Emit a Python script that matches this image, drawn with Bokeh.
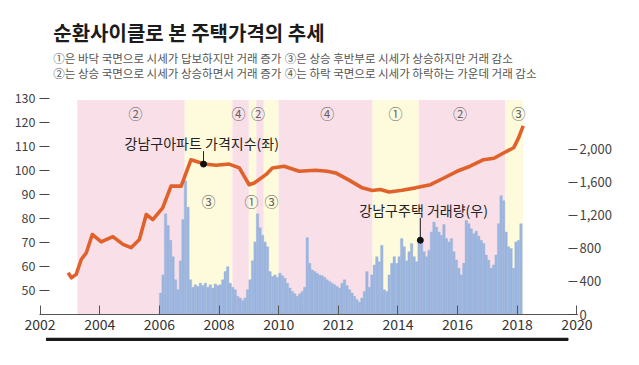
from bokeh.plotting import figure
from bokeh.models import Range1d, LinearAxis, FixedTicker, NumeralTickFormatter
from bokeh.layouts import column
from bokeh.embed import file_html
from bokeh.resources import INLINE
from bokeh.core.properties import value

FONT = "Noto Sans CJK KR"

# ---------------- texts ----------------
title_text = "순환사이클로 본 주택가격의 추세"
legend_col1 = ["①은 바닥 국면으로 시세가 답보하지만 거래 증가",
               "②는 상승 국면으로 시세가 상승하면서 거래 증가"]
legend_col2 = ["③은 상승 후반부로 시세가 상승하지만 거래 감소",
               "④는 하락 국면으로 시세가 하락하는 가운데 거래 감소"]
price_label = "강남구아파트 가격지수(좌)"
volume_label = "강남구주택 거래량(우)"

# ---------------- data ----------------
x_ticks = [2002, 2004, 2006, 2008, 2010, 2012, 2014, 2016, 2018, 2020]
left_ticks = [50, 60, 70, 80, 90, 100, 110, 120, 130]
right_ticks = [0, 400, 800, 1200, 1600, 2000]

# cycle phases (shaded bands)
phase_start = [2003.25, 2006.85, 2008.45, 2009.0, 2009.25, 2009.5, 2010.0, 2013.15, 2014.7, 2017.6]
phase_end = [2006.85, 2008.45, 2009.0, 2009.25, 2009.5, 2010.0, 2013.15, 2014.7, 2017.6, 2018.2]
phase_no = [2, 3, 4, 1, 2, 3, 4, 1, 2, 3]

# phase marker labels
mark_top_x = [2005.2, 2008.65, 2009.31, 2011.63, 2013.92, 2016.08, 2018.04]
mark_top_text = ["②", "④", "②", "④", "①", "②", "③"]
mark_bot_x = [2007.65, 2009.09, 2009.76]
mark_bot_text = ["③", "①", "③"]

# Gangnam apartment price index (left axis)
price_years = [2002.94, 2003.05, 2003.21, 2003.38, 2003.55, 2003.75, 2004.05, 2004.44,
               2004.78, 2005.05, 2005.33, 2005.56, 2005.78, 2006.11, 2006.39, 2006.73,
               2007.06, 2007.51, 2007.90, 2008.34, 2008.68, 2009.01, 2009.18, 2009.57,
               2009.79, 2010.18, 2010.69, 2011.24, 2011.63, 2011.91, 2012.36, 2012.80,
               2013.14, 2013.41, 2013.70, 2014.14, 2014.59, 2015.09, 2015.54, 2015.98,
               2016.42, 2016.87, 2017.22, 2017.54, 2017.88, 2018.04, 2018.20]
price_values = [57.4, 55.3, 56.7, 62.9, 65.7, 73.3, 70.2, 72.4,
                69.2, 67.8, 71.2, 81.6, 79.5, 84.4, 93.4, 93.4,
                104.4, 102.6, 102.1, 102.6, 101.0, 94.0, 94.7, 98.2,
                101.0, 101.7, 99.6, 100.0, 99.6, 98.9, 95.9, 92.7,
                91.6, 92.0, 91.0, 91.7, 92.7, 94.0, 96.8, 99.6,
                101.7, 104.4, 105.0, 107.2, 109.4, 113.4, 118.5]

# Gangnam housing transactions, monthly Jan 2006 - Feb 2018 (right axis)
vol_2006 = [260, 480, 1220, 1080, 900, 700, 420, 300, 650, 1150, 1620, 1300]
vol_2007 = [420, 330, 360, 340, 380, 350, 380, 330, 360, 320, 370, 350]
vol_2008 = [360, 420, 520, 580, 380, 330, 300, 220, 200, 170, 200, 300]
vol_2009 = [420, 650, 880, 1220, 1050, 960, 880, 820, 520, 460, 480, 450]
vol_2010 = [500, 470, 440, 380, 320, 280, 250, 220, 250, 280, 330, 930]
vol_2011 = [620, 540, 520, 500, 480, 470, 450, 420, 400, 380, 360, 340]
vol_2012 = [320, 380, 420, 350, 300, 260, 220, 180, 150, 200, 280, 520]
vol_2013 = [330, 480, 600, 700, 640, 840, 300, 280, 480, 620, 700, 620]
vol_2014 = [700, 920, 820, 650, 760, 860, 700, 640, 900, 880, 760, 700]
vol_2015 = [780, 1000, 1120, 1060, 1000, 960, 1090, 920, 880, 920, 760, 660]
vol_2016 = [560, 480, 620, 1140, 1100, 1040, 980, 1010, 950, 900, 860, 720]
vol_2017 = [660, 560, 600, 720, 1100, 1440, 1380, 1000, 820, 800, 560, 880]
vol_2018 = [900, 1100]
volume = (vol_2006 + vol_2007 + vol_2008 + vol_2009 + vol_2010 + vol_2011 + vol_2012
          + vol_2013 + vol_2014 + vol_2015 + vol_2016 + vol_2017 + vol_2018)
vol_x = [2006 + (i + 0.5) / 12 for i in range(len(volume))]

# annotation anchors (data coordinates)
price_dot = (2007.48, 102.6)
volume_dot = (2014.75, 900)

PINK = "#f9dfe8"
YELLOW = "#fdfbdb"
band_colors = [PINK if n in (2, 4) else YELLOW for n in phase_no]

# ---------------- title block ----------------
tf = figure(width=623, height=84, x_range=Range1d(0, 623), y_range=Range1d(84, 0),
            output_backend="svg", toolbar_location=None, min_border=0,
            x_axis_location=None, y_axis_location=None)
tf.outline_line_color = None
tf.grid.grid_line_color = None
tf.text(x=[16], y=[32], text=[title_text], text_font=value(FONT),
        text_font_size="20px", text_font_style="bold", text_baseline="middle",
        text_color="#1b1b1b")
tf.text(x=[16, 16], y=[57, 72], text=legend_col1, text_font=value(FONT),
        text_font_size="11.5px", text_baseline="middle", text_color="#555555")
tf.text(x=[284, 284], y=[57, 72], text=legend_col2, text_font=value(FONT),
        text_font_size="11.5px", text_baseline="middle", text_color="#555555")

# ---------------- main chart ----------------
Y0, Y1 = 40, 130.3
p = figure(width=623, height=251, x_range=Range1d(2001.98, 2020.02), y_range=Range1d(Y0, Y1),
           output_backend="svg", toolbar_location=None,
           min_border_left=39, min_border_right=46, min_border_top=13, min_border_bottom=21)
p.outline_line_color = None
p.grid.grid_line_color = None
p.extra_y_ranges = {"vol": Range1d(0, 2630)}

# bands
p.quad(left=phase_start, right=phase_end, bottom=Y0, top=129.3, color=band_colors,
       line_color=None)

# bars
p.vbar(x=vol_x, top=volume, bottom=0, width=1 / 12, y_range_name="vol",
       fill_color="#9cb5de", line_color="#9cb5de", line_width=0.4)

# price line
p.line(price_years, price_values, line_color="#e0622a", line_width=3.6, line_join="round")

# phase markers
p.text(x=mark_top_x, y=[123.8] * len(mark_top_x), text=mark_top_text, text_font=value(FONT),
       text_font_size="14px", text_align="center", text_baseline="middle", text_color="#666666")
p.text(x=mark_bot_x, y=[87.2] * len(mark_bot_x), text=mark_bot_text, text_font=value(FONT),
       text_font_size="14px", text_align="center", text_baseline="middle", text_color="#666666")

# price annotation
p.text(x=[2007.42], y=[111.3], text=[price_label], text_font=value(FONT),
       text_font_size="14px", text_align="center", text_baseline="middle", text_color="#222222")
p.segment(x0=[price_dot[0]], y0=[price_dot[1]], x1=[price_dot[0]], y1=[108.0],
          line_color="#222222", line_width=1)
p.scatter(x=[price_dot[0]], y=[price_dot[1]], size=6, color="#111111")

# volume annotation
p.text(x=[2014.86], y=[1265], text=[volume_label], text_font=value(FONT),
       text_font_size="14px", text_align="center", text_baseline="middle", text_color="#222222",
       y_range_name="vol")
p.segment(x0=[volume_dot[0]], y0=[volume_dot[1]], x1=[volume_dot[0]], y1=[1170],
          line_color="#222222", line_width=1, y_range_name="vol")
p.scatter(x=[volume_dot[0]], y=[volume_dot[1]], size=6, color="#111111", y_range_name="vol")

# axes
xa = p.xaxis[0]
xa.ticker = FixedTicker(ticks=x_ticks)
xa.major_tick_in = 9
xa.major_tick_out = 0
xa.minor_tick_line_color = None
xa.axis_line_color = "#555555"
xa.major_tick_line_color = "#555555"
xa.major_label_standoff = 4
xa.major_label_text_font = FONT
xa.major_label_text_font_size = "14px"
xa.major_label_text_color = "#333333"

yl = p.yaxis[0]
yl.ticker = FixedTicker(ticks=left_ticks)
yl.major_tick_in = 10
yl.major_tick_out = 0
yl.minor_tick_line_color = None
yl.axis_line_color = None
yl.major_tick_line_color = "#444444"
yl.major_label_standoff = 4
yl.major_label_text_font = FONT
yl.major_label_text_font_size = "12.5px"
yl.major_label_text_color = "#444444"

yr = LinearAxis(y_range_name="vol", ticker=FixedTicker(ticks=right_ticks),
                formatter=NumeralTickFormatter(format="0,0"))
yr.major_tick_in = 9
yr.major_tick_out = 0
yr.minor_tick_line_color = None
yr.axis_line_color = None
yr.major_tick_line_color = "#444444"
yr.major_label_standoff = 2
yr.major_label_text_font = FONT
yr.major_label_text_font_size = "13px"
yr.major_label_text_color = "#444444"
p.add_layout(yr, "right")

# ---------------- bottom rule ----------------
rf = figure(width=623, height=10, x_range=Range1d(0, 623), y_range=Range1d(10, 0),
            output_backend="svg", toolbar_location=None, min_border=0,
            x_axis_location=None, y_axis_location=None)
rf.outline_line_color = None
rf.grid.grid_line_color = None
rf.quad(left=[8], right=[612], top=[0.5], bottom=[3], color="#1a1a1a")

layout = column(tf, p, rf, spacing=0)
open("out.html", "w").write(file_html(layout, INLINE))
